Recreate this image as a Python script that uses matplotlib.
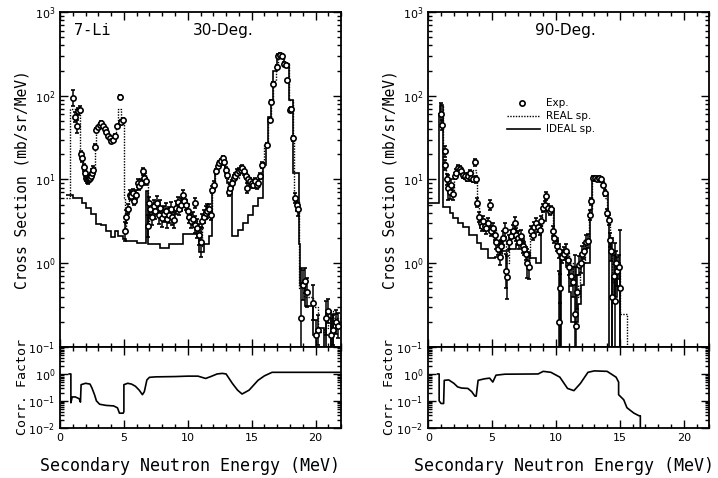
import matplotlib
matplotlib.use("Agg")
import numpy as np
from matplotlib import pyplot as plt
from matplotlib.ticker import MultipleLocator, LogLocator, NullFormatter

# ---------------- 7-Li, 30 deg ----------------
exp30_e = [1.04, 1.17, 1.30, 1.42, 1.55, 1.68, 1.75, 1.85, 1.94, 2.02, 2.10, 2.18, 2.26, 2.34,
           2.42, 2.50, 2.59, 2.72, 2.85, 2.98, 3.10, 3.24, 3.36, 3.50, 3.63, 3.76, 3.89, 4.02,
           4.14, 4.27, 4.46, 4.66, 4.80, 4.92, 5.05, 5.18, 5.31, 5.44, 5.57, 5.70, 5.83, 5.96,
           6.09, 6.22, 6.35, 6.48, 6.61, 6.74, 6.87, 6.95, 7.08, 7.20, 7.33, 7.46, 7.60, 7.73,
           7.86, 8.00, 8.13, 8.26, 8.40, 8.53, 8.66, 8.80, 8.93, 9.06, 9.20, 9.33, 9.46, 9.60,
           9.73, 9.86, 10.0, 10.13, 10.26, 10.40, 10.53, 10.60, 10.73, 10.86, 11.0, 11.13, 11.26,
           11.40, 11.53, 11.66, 11.80, 11.93, 12.06, 12.2, 12.33, 12.46, 12.6, 12.73, 12.86, 13.0,
           13.1, 13.2, 13.33, 13.46, 13.6, 13.73, 13.86, 14.0, 14.13, 14.26, 14.4, 14.53, 14.6,
           14.73, 14.86, 15.0, 15.13, 15.26, 15.4, 15.53, 15.66, 15.8, 16.2, 16.4, 16.5, 16.7,
           17.0, 17.1, 17.25, 17.4, 17.55, 17.7, 17.8, 18.0, 18.1, 18.2, 18.4, 18.55, 18.65,
           18.9, 19.05, 19.2, 19.35, 19.8, 20.0, 20.2, 20.8, 21.0, 21.2, 21.4, 21.6, 21.8]
exp30_y = [93, 56, 43, 65, 68, 20, 18, 14, 12, 10.5, 10, 9.8, 10.2, 10.5,
           11, 12, 13, 24.7, 39, 42, 45, 47, 44, 40, 37, 33, 31, 29,
           30, 33, 43, 97, 49, 51, 2.4, 3.6, 4.4, 6.6, 6.3, 6.9, 5.5, 6.6,
           9.1, 8.3, 9.1, 12.5, 10.4, 9.5, 2.8, 5.2, 4.5, 3.6, 4.8, 4.2, 5.3, 3.8,
           4.6, 3.5, 3.9, 4.2, 3.4, 3.8, 4.5, 3.6, 3.3, 4.6, 5.4, 4.5, 5.0, 6.6,
           5.6, 5.0, 4.2, 3.6, 3.2, 3.4, 2.9, 5.3, 2.6, 2.2, 1.8, 3.2, 3.6,
           4.0, 4.2, 4.4, 3.8, 7.5, 8.7, 12.5, 14.5, 15.7, 16.5, 18, 16, 13,
           11.4, 7.0, 8.0, 9.0, 10.4, 11, 12, 12.5, 13, 13.7, 12.5, 11, 7.9,
           10, 9.5, 9, 8.7, 9.5, 8.5, 9.0, 11, 15, 26, 52, 85, 139,
           220, 300, 310, 300, 240, 235, 152, 68, 70, 31, 6.0, 5.0, 4.4,
           0.22, 0.55, 0.62, 0.45, 0.34, 0.14, 0.16, 0.22, 0.27, 0.14, 0.16, 0.2, 0.18]
exp30_err = [0.25, 0.15, 0.2, 0.1, 0.1, 0.1, 0.1, 0.1, 0.1, 0.1, 0.1, 0.1, 0.1, 0.1,
             0.1, 0.1, 0.1, 0.08, 0.06, 0.05, 0.05, 0.05, 0.05, 0.05, 0.05, 0.05, 0.05, 0.05,
             0.05, 0.05, 0.05, 0.05, 0.05, 0.05, 0.3, 0.2, 0.15, 0.12, 0.12, 0.12, 0.12, 0.12,
             0.12, 0.1, 0.1, 0.1, 0.1, 0.1, 0.35, 0.2, 0.2, 0.25, 0.2, 0.25, 0.2, 0.3,
             0.25, 0.3, 0.25, 0.25, 0.3, 0.25, 0.2, 0.25, 0.25, 0.2, 0.15, 0.2, 0.2, 0.15,
             0.15, 0.15, 0.2, 0.2, 0.2, 0.2, 0.25, 0.15, 0.3, 0.35, 0.5, 0.2, 0.2,
             0.2, 0.2, 0.15, 0.15, 0.1, 0.1, 0.08, 0.07, 0.07, 0.07, 0.07, 0.07, 0.08,
             0.08, 0.1, 0.1, 0.1, 0.1, 0.1, 0.1, 0.1, 0.1, 0.1, 0.1, 0.1, 0.15,
             0.1, 0.1, 0.1, 0.1, 0.1, 0.1, 0.1, 0.1, 0.08, 0.06, 0.05, 0.05, 0.05,
             0.05, 0.05, 0.05, 0.05, 0.05, 0.05, 0.05, 0.06, 0.06, 0.08, 0.15, 0.2, 0.2,
             3.0, 0.5, 0.4, 0.5, 0.6, 0.5, 0.5, 0.6, 0.4, 0.6, 0.5, 0.4, 0.4]

real30_edges = [0.5, 0.78, 1.6, 1.8, 2.0, 2.6, 2.7, 2.8, 3.0, 3.4, 3.7, 3.9, 4.2, 4.4, 4.55, 4.75,
                5.0, 5.05, 5.2, 5.4, 6.0, 6.4, 6.75, 6.9, 7.0, 8.0, 9.0, 9.5, 9.9, 10.2, 10.7,
                11.0, 11.1, 11.5, 11.9, 12.1, 12.4, 12.7, 12.95, 13.15, 13.5, 14.0, 14.5, 15.0,
                15.6, 15.8, 16.0, 16.3, 16.5, 16.65, 16.9, 17.05, 17.5, 17.9, 18.2, 18.35, 18.7,
                18.85, 19.1, 19.8, 20.2, 20.7, 21.0, 21.4, 21.95]
real30_vals = [6, 70, 20, 13, 10.5, 13, 25, 40, 45, 42, 35, 30, 32, 45, 70, 52,
               6, 2.5, 4.0, 6.5, 9, 12, 9.5, 3.0, 4.5, 3.8, 4.5, 6, 4.5, 3.4, 2.4,
               1.6, 3.5, 4.2, 8, 13, 16, 17, 12, 8, 10.5, 13, 10, 9,
               11, 15, 26, 55, 85, 150, 230, 310, 240, 90, 30, 5.5, 0.5,
               0.6, 0.4, 0.3, 0.15, 0.17, 0.27, 0.22]

ideal30_edges = [0.5, 1.0, 1.7, 2.07, 2.46, 2.85, 3.24, 3.63, 4.0, 4.3, 4.5, 4.9, 5.2, 6.0, 6.75,
                 6.9, 7.8, 8.55, 9.6, 10.9, 11.3, 11.65, 11.9, 12.1, 12.3, 12.6, 12.9, 13.1, 13.5,
                 13.9, 14.3, 14.7, 15.1, 15.5, 15.9, 16.1, 16.3, 16.5, 16.7, 17.0, 17.5, 17.9,
                 18.25, 18.7, 18.8, 19.2, 19.8, 20.2, 20.7, 20.85, 21.25, 21.4, 21.8]
ideal30_vals = [6.5, 6.0, 5.3, 4.6, 3.85, 2.94, 2.86, 2.43, 2.06, 2.4, 2.1, 1.95, 1.85, 1.75,
                7.2, 1.7, 1.54, 1.7, 2.25, 1.35, 1.7, 2.1, 7.5, 12.5, 15, 17, 13, 9, 2.1,
                2.5, 3.0, 3.8, 4.8, 6.0, 15, 26, 55, 85, 200, 300, 240, 90, 12, 1.7, 0.57,
                0.31, 0.14, 0.17, 0.05, 0.27, 0.05, 0.25]

corr30_e = [0.72, 0.85, 0.85, 0.95, 1.2, 1.5, 1.6, 1.65, 2.0, 2.35, 2.5, 2.7, 2.85, 3.1, 3.6,
            4.2, 4.5, 4.65, 4.95, 5.0, 5.0, 5.3, 5.6, 5.9, 6.2, 6.45, 6.6, 6.8, 7.0, 7.5, 9.0,
            10.0, 10.8, 11.4, 11.8, 12.3, 12.7, 13.0, 13.5, 13.9, 14.25, 14.8, 15.5, 16.0, 16.6,
            17.0, 21.9]
corr30_v = [1.0, 1.0, 0.085, 0.14, 0.14, 0.12, 0.09, 0.4, 0.45, 0.42, 0.3, 0.17, 0.1, 0.075,
            0.068, 0.065, 0.055, 0.035, 0.035, 0.04, 0.4, 0.45, 0.42, 0.35, 0.25, 0.17, 0.22,
            0.6, 0.75, 0.78, 0.8, 0.83, 0.83, 0.68, 0.8, 1.0, 1.05, 1.0, 0.44, 0.25, 0.18,
            0.25, 0.58, 0.85, 1.15, 1.15, 1.15]

# ---------------- 7-Li, 90 deg ----------------
exp90_e = [1.0, 1.05, 1.3, 1.32, 1.43, 1.55, 1.68, 1.8, 1.93, 2.07, 2.2, 2.33, 2.46, 2.6,
           2.73, 2.86, 3.0, 3.12, 3.25, 3.38, 3.5, 3.63, 3.75, 3.85, 4.0, 4.1, 4.2, 4.3, 4.42,
           4.55, 4.68, 4.8, 4.9, 5.05, 5.2, 5.33, 5.45, 5.58, 5.7, 5.85, 6.0, 6.1, 6.2, 6.35,
           6.5, 6.62, 6.75, 6.88, 7.0, 7.12, 7.25, 7.38, 7.5, 7.62, 7.75, 7.9, 8.05, 8.18, 8.3,
           8.45, 8.6, 8.75, 8.85, 9.0, 9.15, 9.25, 9.38, 9.5, 9.62, 9.75, 9.85, 10.1, 10.2,
           10.25, 10.3, 10.45, 10.6, 10.75, 10.9, 11.05, 11.2, 11.35, 11.45, 11.55, 11.65, 11.8,
           11.95, 12.05, 12.2, 12.35, 12.5, 12.65, 12.75, 12.9, 13.05, 13.2, 13.35, 13.5, 13.65,
           13.8, 14.0, 14.15, 14.2, 14.3, 14.4, 14.5, 14.6, 14.7, 14.8, 14.9, 15.0]
exp90_y = [61, 45, 21.6, 15, 10, 8, 7.0, 8.7, 6.8, 11, 12, 13.7, 13.5, 12.5,
           11.4, 11, 10.4, 11, 12, 10.4, 10, 16, 10, 5.3, 3.6, 3.0, 2.8, 3.2, 2.8,
           2.6, 3.0, 5.0, 2.4, 2.6, 2.2, 1.8, 1.5, 1.2, 1.6, 2.0, 2.5, 0.8, 0.68, 1.8,
           2.1, 2.4, 3.0, 2.2, 2.0, 1.8, 2.1, 1.6, 1.5, 1.3, 1.0, 0.9, 2.4, 2.2, 2.7,
           3.0, 2.7, 2.5, 3.2, 4.6, 5.0, 6.3, 4.6, 4.2, 4.4, 2.4, 2.0, 1.6, 0.2,
           1.4, 0.5, 1.2, 1.3, 1.4, 1.1, 0.9, 0.7, 0.6, 0.25, 0.18, 0.45, 0.95,
           1.0, 1.3, 1.4, 1.8, 1.85, 3.8, 5.5, 10.5, 10.5, 10.2, 10.3, 10.0, 8.7,
           6.9, 4.0, 3.3, 1.9, 1.4, 0.4, 0.7, 0.35, 1.0, 0.8, 0.9, 0.5]
exp90_err = [0.35, 0.15, 0.15, 0.15, 0.15, 0.4, 0.2, 0.15, 0.2, 0.1, 0.1, 0.08, 0.08, 0.08,
             0.08, 0.08, 0.08, 0.08, 0.08, 0.08, 0.08, 0.1, 0.1, 0.12, 0.15, 0.15, 0.15, 0.15, 0.15,
             0.15, 0.15, 0.15, 0.15, 0.15, 0.15, 0.2, 0.2, 0.25, 0.2, 0.2, 0.2, 0.6, 0.8, 0.2,
             0.2, 0.2, 0.2, 0.2, 0.2, 0.2, 0.2, 0.2, 0.2, 0.2, 0.5, 0.4, 0.15, 0.15, 0.15,
             0.15, 0.15, 0.15, 0.15, 0.12, 0.12, 0.12, 0.1, 0.1, 0.1, 0.15, 0.15, 0.15, 3.0,
             0.2, 0.5, 0.2, 0.2, 0.2, 0.2, 0.25, 0.3, 0.5, 4.0, 4.0, 0.6, 0.3,
             0.3, 0.25, 0.25, 0.2, 0.2, 0.15, 0.1, 0.06, 0.06, 0.06, 0.06, 0.06, 0.08,
             0.1, 0.1, 0.15, 0.2, 0.3, 4.0, 0.8, 4.0, 0.4, 0.5, 0.4, 4.0]

real90_edges = [0.84, 0.95, 1.15, 1.35, 1.6, 2.0, 2.3, 2.7, 3.1, 3.5, 3.75, 3.85, 3.95, 4.3, 5.0,
                5.3, 5.6, 5.8, 6.05, 6.3, 6.8, 7.0, 7.5, 7.75, 8.0, 8.5, 8.9, 9.4, 9.75, 9.9,
                10.25, 10.6, 11.0, 11.3, 11.7, 11.9, 12.3, 12.6, 12.8, 13.6, 13.85, 14.0, 14.2,
                14.35, 14.5, 14.8, 15.0, 15.55, 15.6]
real90_vals = [60, 77, 16, 9, 7.5, 11, 13.5, 11.5, 11, 13, 10, 5, 3.3, 2.9, 2.5,
               1.7, 1.3, 2.0, 1.0, 2.0, 2.5, 2.0, 1.5, 1.1, 2.3, 2.8, 4.5, 4.3, 2.2, 1.6,
               1.3, 1.35, 1.0, 0.55, 0.4, 1.0, 1.85, 4.5, 10.5, 8.5, 6, 3.5, 1.5,
               0.6, 0.7, 0.9, 0.25, 0.01]

ideal90_edges = [0.0, 0.84, 0.95, 1.15, 1.7, 1.95, 2.35, 2.7, 3.2, 3.8, 4.15, 4.7, 5.2, 5.6, 5.8,
                 6.35, 6.9, 7.6, 8.0, 8.4, 8.8, 9.2, 9.4, 9.85, 10.15, 10.3, 10.4, 10.8, 11.0,
                 11.2, 11.7, 11.95, 12.2, 12.65, 12.85, 13.6, 13.85, 14.05, 14.15, 14.4, 14.65,
                 14.8, 15.0, 15.1]
ideal90_vals = [5.3, 60, 77, 4.7, 4.0, 3.5, 3.05, 2.7, 2.2, 1.75, 1.5, 1.17, 1.2, 1.85,
                1.4, 1.5, 1.7, 1.35, 1.15, 1.0, 3.2, 5.0, 4.5, 2.0, 1.4, 0.05, 1.2, 0.9,
                0.45, 0.2, 0.33, 0.55, 1.0, 4.0, 10.5, 8.5, 6.5, 3.5, 0.05, 0.7, 0.4, 1.0, 0.05]

corr90_e = [0.72, 0.85, 0.85, 1.0, 1.2, 1.25, 1.6, 2.0, 2.3, 2.6, 3.1, 3.4, 3.65, 3.75, 3.9,
            4.4, 4.8, 5.05, 5.3, 6.0, 8.6, 9.0, 9.6, 10.3, 10.9, 11.4, 11.9, 12.5, 13.0, 14.0,
            14.7, 14.9, 14.9, 15.3, 15.55, 15.8, 16.1, 16.5, 16.6, 16.6]
corr90_v = [1.0, 1.0, 0.1, 0.08, 0.08, 0.58, 0.6, 0.45, 0.33, 0.3, 0.29, 0.22, 0.15, 0.15,
            0.58, 0.66, 0.7, 0.5, 0.9, 0.98, 1.0, 1.25, 1.15, 0.76, 0.29, 0.24, 0.44, 1.15,
            1.3, 1.25, 0.76, 0.5, 0.17, 0.11, 0.056, 0.045, 0.035, 0.028, 0.028, 0.005]

MONO = "DejaVu Sans Mono"


def style_axis(ax, ylim):
    ax.set_yscale("log")
    ax.set_xlim(0, 22)
    ax.set_ylim(*ylim)
    ax.xaxis.set_major_locator(MultipleLocator(5))
    ax.xaxis.set_minor_locator(MultipleLocator(1))
    ax.yaxis.set_minor_locator(LogLocator(base=10, subs=np.arange(2, 10) * 1.0, numticks=20))
    ax.yaxis.set_minor_formatter(NullFormatter())
    ax.tick_params(which="both", direction="in", top=True, right=True, width=1.0,
                   labelsize=8)
    ax.tick_params(which="major", length=6)
    ax.tick_params(which="minor", length=3)
    for sp in ax.spines.values():
        sp.set_linewidth(1.3)


def draw_panel(ax, exp_e, exp_y, exp_err, real_e, real_v, ideal_e, ideal_v):
    y = np.array(exp_y)
    f = np.array(exp_err)
    yerr = [y * f / (1 + f), y * f]
    ax.errorbar(exp_e, y, yerr=yerr, fmt="o", ms=3.8, mfc="white", mec="k", mew=1.2,
                ecolor="k", elinewidth=1.1, capsize=1.5, zorder=3)
    ax.stairs(real_v, real_e, baseline=None, color="k", ls=(0, (1, 1)), lw=1.0, zorder=2)
    ax.stairs(ideal_v, ideal_e, baseline=None, color="k", lw=1.2, zorder=2)


fig = plt.figure(figsize=(7.18, 4.78), dpi=100)

panels = [
    (0.0836, exp30_e, exp30_y, exp30_err, real30_edges, real30_vals, ideal30_edges, ideal30_vals,
     corr30_e, corr30_v),
    (0.5965, exp90_e, exp90_y, exp90_err, real90_edges, real90_vals, ideal90_edges, ideal90_vals,
     corr90_e, corr90_v),
]

axes_top = []
for left, ee, ey, er, re_, rv, ie, iv, ce, cv in panels:
    ax = fig.add_axes([left, 0.274, 0.3914, 0.701])
    style_axis(ax, (0.1, 1000))
    ax.set_yticks([1e-1, 1e0, 1e1, 1e2, 1e3])
    ax.tick_params(labelbottom=False)
    draw_panel(ax, ee, ey, er, re_, rv, ie, iv)
    axes_top.append(ax)

    axc = fig.add_axes([left, 0.105, 0.3914, 0.169])
    style_axis(axc, (0.01, 10))
    axc.set_yticks([1e-2, 1e-1, 1e0, 1e1])
    axc.set_yticklabels(["$10^{-2}$", "$10^{-1}$", "$10^{0}$", ""])
    axc.plot(ce, cv, color="k", lw=1.2)
    axc.set_xticks([0, 5, 10, 15, 20])
    axc.set_xticklabels(["0", "5", "10", "15", "20"])

# panel annotations
axes_top[0].text(0.05, 0.946, "7-Li", transform=axes_top[0].transAxes, fontsize=11,
                 family=MONO, va="center")
axes_top[0].text(0.473, 0.946, "30-Deg.", transform=axes_top[0].transAxes, fontsize=11,
                 va="center")
axes_top[1].text(0.38, 0.946, "90-Deg.", transform=axes_top[1].transAxes, fontsize=11,
                 va="center")

# legend drawn by hand in the 90-deg panel
axl = axes_top[1]
axl.plot([0.333], [0.728], "o", ms=3.8, mfc="white", mec="k", mew=1.2,
         transform=axl.transAxes)
axl.plot([0.28, 0.398], [0.69, 0.69], color="k", ls=(0, (1, 1)), lw=1.0,
         transform=axl.transAxes)
axl.plot([0.28, 0.398], [0.652, 0.652], color="k", lw=1.2, transform=axl.transAxes)
axl.text(0.42, 0.728, "Exp.", transform=axl.transAxes, fontsize=7.5, va="center")
axl.text(0.42, 0.69, "REAL sp.", transform=axl.transAxes, fontsize=7.5, va="center")
axl.text(0.42, 0.652, "IDEAL sp.", transform=axl.transAxes, fontsize=7.5, va="center")

# axis labels
for xl, xc in [(0.031, 0.2646), (0.543, 0.785)]:
    fig.text(xl, 0.624, "Cross Section (mb/sr/MeV)", rotation=90, ha="center",
             va="center", fontsize=10.5, family=MONO)
    fig.text(xl, 0.19, "Corr. Factor", rotation=90, ha="center", va="center",
             fontsize=9.5, family=MONO)
    fig.text(xc, 0.025, "Secondary Neutron Energy (MeV)", ha="center", va="center",
             fontsize=12, family=MONO)

fig.savefig("out.png", dpi=100)
